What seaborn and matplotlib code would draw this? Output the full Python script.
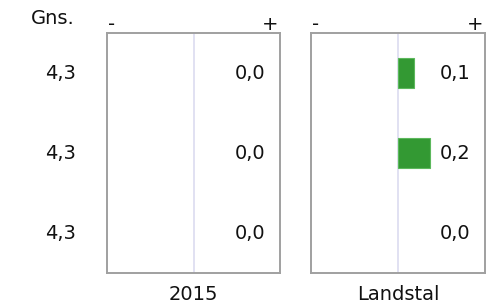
import pandas as pd
import matplotlib
matplotlib.use("Agg")
import matplotlib.pyplot as plt
import seaborn as sns

# data
rows = ["r1", "r2", "r3"]
gns = [4.3, 4.3, 4.3]
panel_titles = ["2015", "Landstal"]
values_2015 = [0.0, 0.0, 0.0]
values_landstal = [0.1, 0.2, 0.0]

sns.set_theme(style="white")
plt.rcParams["font.family"] = ["DejaVu Sans"]

fig = plt.figure(figsize=(4.93, 3.05), dpi=100)
ax1 = fig.add_axes([107 / 493, 1 - 273 / 305, 173 / 493, 240 / 305])
ax2 = fig.add_axes([311 / 493, 1 - 273 / 305, 174 / 493, 240 / 305])

fmt = lambda v: f"{v:.1f}".replace(".", ",")
fs = 14
tc = "#111111"

for ax, title, vals in [(ax1, panel_titles[0], values_2015), (ax2, panel_titles[1], values_landstal)]:
    df = pd.DataFrame({"row": rows, "value": vals})
    sns.barplot(data=df, x="value", y="row", orient="h", ax=ax, color="#339933",
                width=0.37, linewidth=0, saturation=1)
    for p in ax.patches:
        if p.get_width() != 0:
            p.set_edgecolor("#5cb85c")
            p.set_linewidth(0.8)
        else:
            p.set_visible(False)
    ax.axvline(0, color="#dcdcf0", lw=1.2, zorder=0)
    ax.set_xlim(-0.55, 0.55)
    ax.set_ylim(2.5, -0.5)
    ax.set_xticks([])
    ax.set_yticks([])
    ax.set_xlabel("")
    ax.set_ylabel("")
    for s in ax.spines.values():
        s.set_color("#a0a0a0")
        s.set_linewidth(1.4)
    for i, v in enumerate(vals):
        ax.text(0.915, i, fmt(v), transform=ax.get_yaxis_transform(), ha="right",
                va="center", fontsize=fs, color=tc)
    ax.text(0.005, 1.0125, "-", transform=ax.transAxes, ha="left", va="baseline", fontsize=fs, color=tc)
    ax.text(0.99, 1.0125, "+", transform=ax.transAxes, ha="right", va="baseline", fontsize=fs, color=tc)
    ax.text(0.5, -0.0875, title, transform=ax.transAxes, ha="center", va="center", fontsize=fs, color=tc)

# left column with averages
fig.text(75 / 493, 1 - 24 / 305, "Gns.", ha="right", va="baseline", fontsize=fs, color=tc)
for i, g in enumerate(gns):
    ax1.text(-0.18, i, fmt(g), transform=ax1.get_yaxis_transform(), ha="right",
             va="center", fontsize=fs, color=tc)

fig.savefig("out.png", dpi=100)
